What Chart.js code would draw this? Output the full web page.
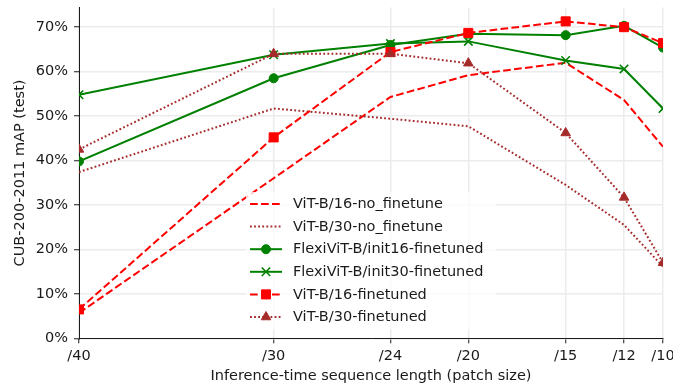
<!DOCTYPE html>
<html>
<head>
<meta charset="utf-8">
<script src="https://cdn.jsdelivr.net/npm/chart.js@4/dist/chart.umd.min.js"></script>
<style>
  html, body { margin: 0; padding: 0; background: #fff; }
  #wrap { width: 673px; height: 388px; }
</style>
</head>
<body>
<div id="wrap"><canvas id="chart" width="673" height="388"></canvas></div>
<script>
// --- data (in %) ---
const patchSizes = [40, 30, 24, 20, 15, 12, 10];
const yTicks = [0, 10, 20, 30, 40, 50, 60, 70];

const vit16NoFt   = [5.7, 36.0, 54.3, 59.2, 62.0, 53.6, 43.1];
const vit30NoFt   = [37.4, 51.7, 49.4, 47.7, 34.5, 25.5, 16.1];
const flexInit16  = [39.8, 58.5, 66.0, 68.5, 68.2, 70.3, 65.4];
const flexInit30  = [54.8, 63.8, 66.3, 66.8, 62.5, 60.6, 51.7];
const vit16Ft     = [6.5, 45.2, 64.4, 68.7, 71.3, 70.0, 66.4];
const vit30Ft     = [42.5, 64.0, 64.0, 61.9, 46.2, 31.7, 17.0];

const RED = '#ff0000', GREEN = '#008000', BROWN = '#a52a2a';
const FONT = "'DejaVu Sans', sans-serif";
const FSIZE = 14.5;

function pts(vals) { return vals.map((v, i) => ({ x: patchSizes[i], y: v })); }

function series(label, vals, color, dash, style, radius) {
    return {
        label: label,
        data: pts(vals),
        borderColor: color,
        backgroundColor: color,
        borderWidth: 2,
        borderDash: dash,
        pointStyle: style || 'circle',
        pointRadius: radius || 0,
        pointBorderWidth: style === 'crossRot' ? 1.6 : 1,
        pointBackgroundColor: color,
        pointBorderColor: color,
        tension: 0
    };
}

const DASHED = [7.7, 3.3];
const DOTTED = [1.8, 2.3];

const datasets = [
    series('ViT-B/16-no_finetune', vit16NoFt, RED, DASHED),
    series('ViT-B/30-no_finetune', vit30NoFt, BROWN, DOTTED),
    series('FlexiViT-B/init16-finetuned', flexInit16, GREEN, [], 'circle', 4.5),
    series('FlexiViT-B/init30-finetuned', flexInit30, GREEN, [], 'crossRot', 6),
    series('ViT-B/16-finetuned', vit16Ft, RED, DASHED, 'rect', 6.4),
    series('ViT-B/30-finetuned', vit30Ft, BROWN, DOTTED, 'triangle', 5.5)
];
// later series on top, like matplotlib
datasets.forEach((d, i) => d.order = datasets.length - i);

// legend drawn inside the plot, matplotlib style
const legendBox = {
    id: 'legendBox',
    afterDatasetsDraw(chart) {
        const ctx = chart.ctx;
        const x0 = 246, y0 = 192, w = 250, h = 137;
        ctx.save();
        ctx.fillStyle = 'rgba(255,255,255,0.8)';
        ctx.beginPath();
        ctx.roundRect(x0, y0, w, h, 3);
        ctx.fill();
        ctx.font = FSIZE + 'px ' + FONT;
        ctx.textBaseline = 'middle';
        chart.data.datasets.forEach((d, i) => {
            const y = 204 + i * 22.6;
            ctx.strokeStyle = d.borderColor;
            ctx.lineWidth = d.borderWidth;
            ctx.setLineDash(d.borderDash);
            ctx.beginPath();
            ctx.moveTo(250, y);
            ctx.lineTo(282, y);
            ctx.stroke();
            ctx.setLineDash([]);
            if (d.pointRadius > 0) {
                ctx.fillStyle = d.pointBackgroundColor;
                ctx.strokeStyle = d.pointBorderColor;
                ctx.lineWidth = d.pointBorderWidth;
                Chart.helpers.drawPoint(ctx, {
                    pointStyle: d.pointStyle, radius: d.pointRadius,
                    rotation: 0, borderWidth: d.pointBorderWidth
                }, 266, y);
            }
            ctx.fillStyle = '#1a1a1a';
            ctx.fillText(d.label, 293, y + 0.5);
        });
        ctx.restore();
    }
};

new Chart(document.getElementById('chart'), {
    type: 'line',
    data: { datasets: datasets },
    plugins: [legendBox],
    options: {
        responsive: false,
        animation: false,
        layout: { padding: { left: 0, right: 10, top: 7, bottom: 0 } },
        plugins: { legend: { display: false }, tooltip: { enabled: false } },
        scales: {
            x: {
                type: 'linear',
                reverse: true,
                min: 10,
                max: 40,
                afterBuildTicks: s => { s.ticks = patchSizes.map(v => ({ value: v })); },
                afterFit: s => { s.height = 49.7; s.paddingLeft = 0; s.paddingRight = 0; },
                ticks: {
                    color: '#1a1a1a', padding: 4, maxRotation: 0, autoSkip: false,
                    font: { family: FONT, size: FSIZE },
                    callback: v => '/' + v
                },
                grid: { color: '#ececec', lineWidth: 1.5, tickColor: '#1a1a1a', tickLength: 5, tickWidth: 1 },
                border: { display: true, color: '#1a1a1a', width: 1 },
                title: {
                    display: true, text: 'Inference-time sequence length (patch size)',
                    color: '#1a1a1a', font: { family: FONT, size: FSIZE }, padding: { top: 0, bottom: 3 }
                }
            },
            y: {
                min: 0,
                max: 74.4,
                afterBuildTicks: s => { s.ticks = yTicks.map(v => ({ value: v })); },
                afterFit: s => { s.width = 79; s.paddingTop = 0; s.paddingBottom = 0; },
                ticks: {
                    color: '#1a1a1a', padding: 6,
                    font: { family: FONT, size: FSIZE },
                    callback: v => v + '%'
                },
                grid: { color: '#ececec', lineWidth: 1.5, tickColor: '#1a1a1a', tickLength: 5, tickWidth: 1 },
                border: { display: true, color: '#1a1a1a', width: 1 },
                title: {
                    display: true, text: 'CUB-200-2011 mAP (test)',
                    color: '#1a1a1a', font: { family: FONT, size: FSIZE }, padding: { top: 12, bottom: 0 }
                }
            }
        }
    }
});
</script>
</body>
</html>
